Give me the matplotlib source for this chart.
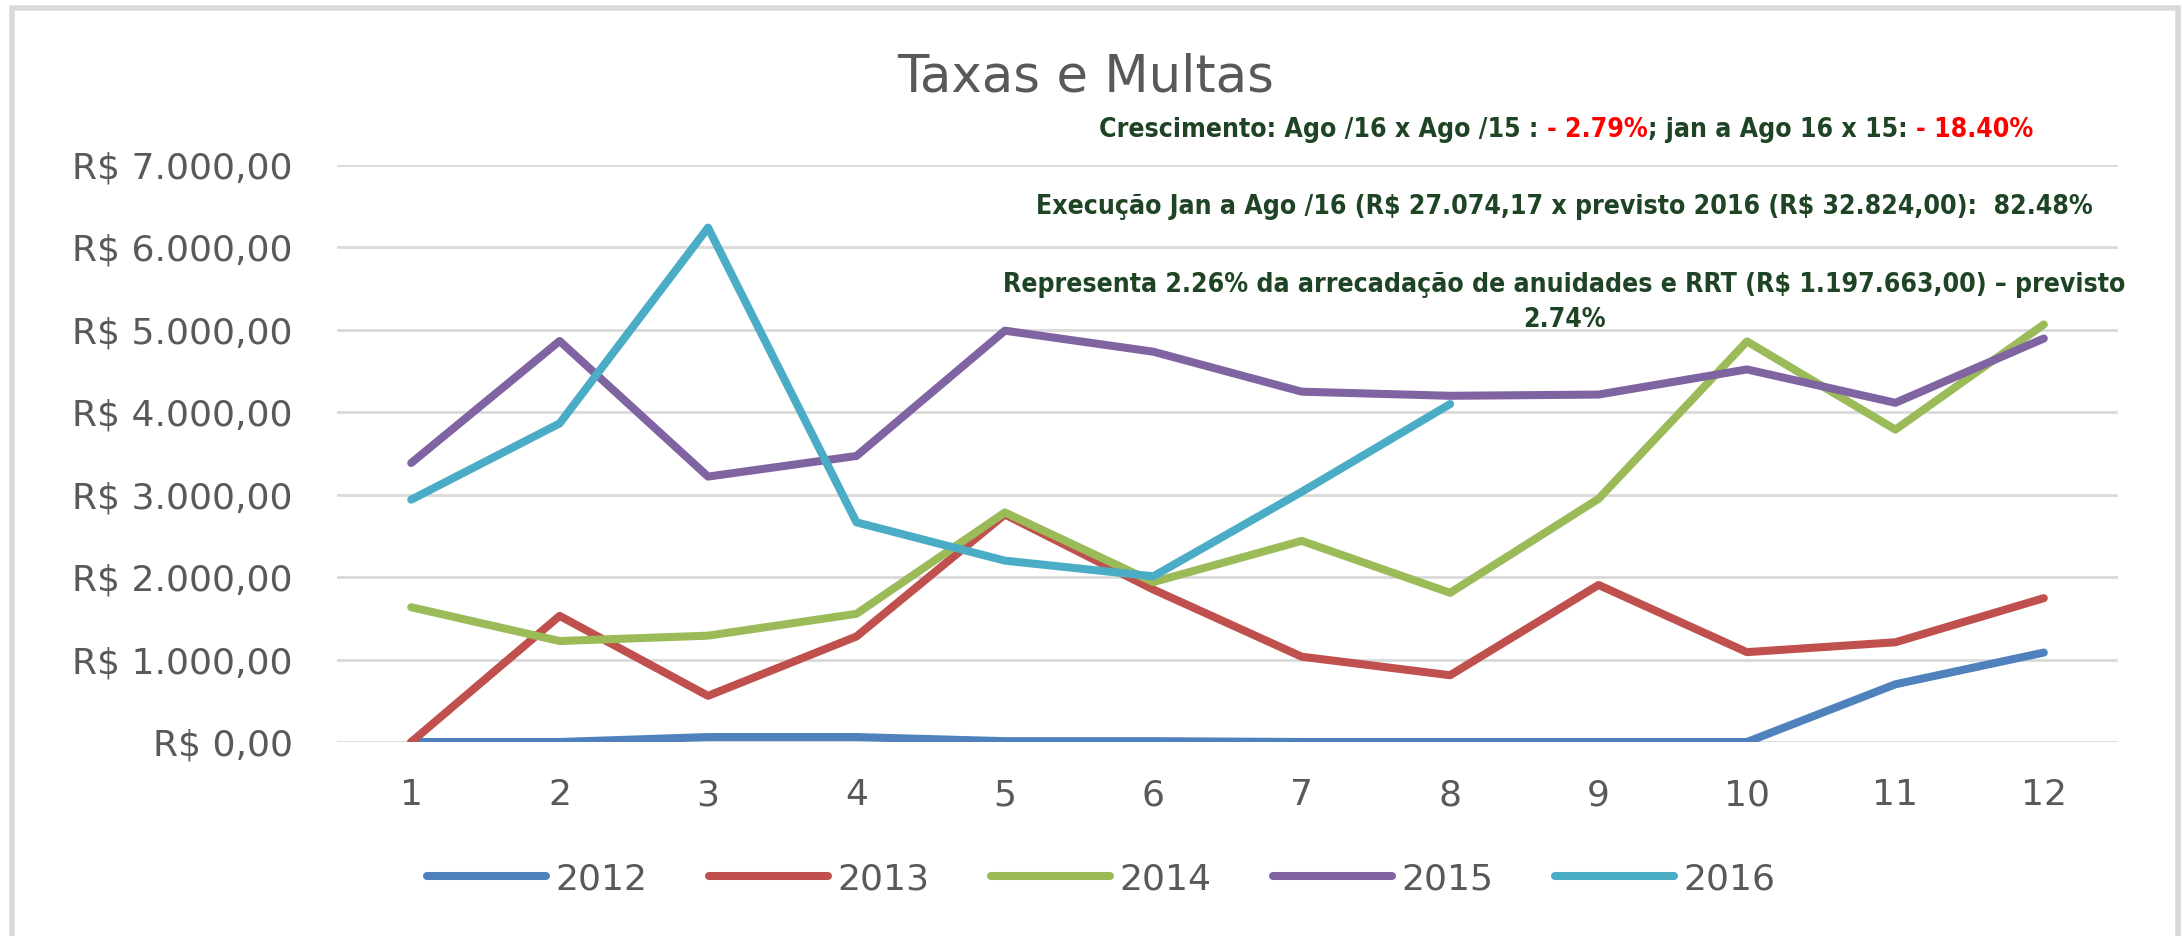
import matplotlib
matplotlib.use("Agg")
import matplotlib.pyplot as plt
from matplotlib.patches import Rectangle

months = [1, 2, 3, 4, 5, 6, 7, 8, 9, 10, 11, 12]
v2012 = [0, 0, 60, 60, 10, 10, 0, 0, 0, 0, 700, 1085]
v2013 = [0, 1530, 560, 1280, 2760, 1850, 1035, 810, 1905, 1090, 1210, 1745]
v2014 = [1635, 1225, 1290, 1555, 2785, 1940, 2440, 1810, 2950, 4860, 3790, 5065]
v2015 = [3385, 4865, 3220, 3470, 4990, 4735, 4250, 4200, 4215, 4520, 4115, 4895]
v2016 = [2940, 3865, 6240, 2665, 2200, 2010, 3035, 4100]
series_names = ["2012", "2013", "2014", "2015", "2016"]
series_colors = ["#4F81BD", "#C0504D", "#9BBB59", "#8064A2", "#4BACC6"]
yticks = [0, 1000, 2000, 3000, 4000, 5000, 6000, 7000]

GRAY = "#595959"
GREEN = "#1F4425"
RED = "#FF0000"
FONT = "DejaVu Sans"


def brl(v):
    s = f"{v:,.2f}"
    s = s.replace(",", "X").replace(".", ",").replace("X", ".")
    return "R$ " + s


fig = plt.figure(figsize=(21.82, 9.36), dpi=100)
W, H = 2182, 936
ax = fig.add_axes([337 / W, 1 - 742 / H, (2118 - 337) / W, (742 - 165) / H])

all_values = [v2012, v2013, v2014, v2015, v2016]
for vals, name, col in zip(all_values, series_names, series_colors):
    ax.plot(months[:len(vals)], vals, color=col, lw=5.8, label=name,
            solid_capstyle="round", solid_joinstyle="round")

ax.set_ylim(0, 7000)
ax.set_xlim(0.5, 12.5)
ax.set_yticks(yticks)
ax.set_yticklabels([brl(v) for v in yticks])
ax.set_xticks(months)
ax.grid(axis="y", color="#D9D9D9", lw=2)
ax.set_axisbelow(True)
for sp in ax.spines.values():
    sp.set_visible(False)
ax.tick_params(length=0, labelsize=26, labelcolor=GRAY)
ax.tick_params(axis="y", pad=32)
ax.tick_params(axis="x", pad=26)
for lab in ax.get_xticklabels() + ax.get_yticklabels():
    lab.set_family(FONT)

fig.text(1086 / W, 1 - 77 / H, "Taxas e Multas", ha="center", va="center",
         fontsize=37, color=GRAY, family=FONT)

# annotation lines, sized so the long line fits its width in the original
cx = 1564 / W
note = dict(fontweight="bold", family=FONT, fontstretch="condensed",
            va="center", parse_math=False)
renderer = fig.canvas.get_renderer()
line3 = "Representa 2.26% da arrecadação de anuidades e RRT (R$ 1.197.663,00) – previsto"
probe = fig.text(0, 0, line3, fontsize=20, **note)
size = min(22, 20 * 1124 / probe.get_window_extent(renderer).width)
probe.remove()

fig.text(cx, 1 - 207 / H,
         "Execução Jan a Ago /16 (R$ 27.074,17 x previsto 2016 (R$ 32.824,00):  82.48%",
         ha="center", color=GREEN, fontsize=size, **note)
fig.text(cx, 1 - 285 / H, line3, ha="center", color=GREEN, fontsize=size, **note)
fig.text(cx, 1 - 320 / H, "2.74%", ha="center", color=GREEN, fontsize=size, **note)

pieces = [("Crescimento: Ago /16 x Ago /15 : ", GREEN), ("- 2.79%", RED),
          ("; jan a Ago 16 x 15: ", GREEN), ("- 18.40%", RED)]
texts = [fig.text(0, 1 - 130 / H, t, ha="left", color=c, fontsize=size, **note)
         for t, c in pieces]
widths = [t.get_window_extent(renderer).width for t in texts]
x = 1566 - sum(widths) / 2
for t, w in zip(texts, widths):
    t.set_x(x / W)
    x += w

fig.legend(loc="center", bbox_to_anchor=(1101 / W, 1 - 879 / H), ncol=5,
           frameon=False, handlelength=3.3, handletextpad=0.26, columnspacing=1.7,
           prop={"family": FONT, "size": 26}, labelcolor=GRAY)

fig.patches.append(Rectangle((12 / W, -0.05), (2178 - 12) / W, 1.05 - 8 / H,
                             transform=fig.transFigure, fill=False,
                             edgecolor="#D9D9D9", lw=4))

fig.savefig("out.png", dpi=100)
